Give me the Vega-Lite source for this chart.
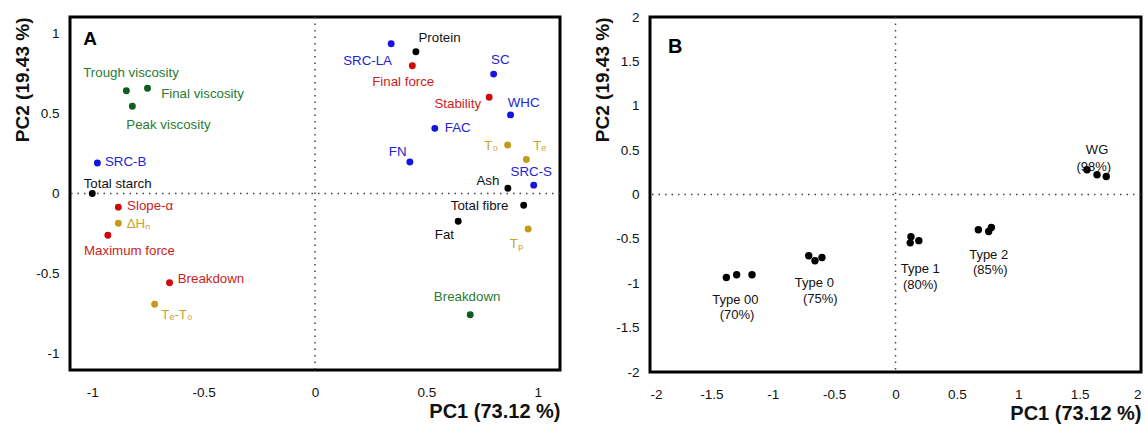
{
  "$schema": "https://vega.github.io/schema/vega-lite/v6.json",
  "background": "white",
  "padding": {"left": 12, "top": 8, "right": 5, "bottom": 5},
  "bounds": "flush",
  "spacing": 90,
  "config": {
    "font": "Liberation Sans",
    "view": {"stroke": "black", "strokeWidth": 3},
    "axis": {
      "grid": false, "ticks": false, "tickSize": 0, "domain": false,
      "labelFontSize": 13.5, "labelColor": "#111", "labelFont": "Liberation Sans",
      "titleFontWeight": "bold", "titleColor": "#111", "titleFont": "Liberation Sans"
    },
    "axisX": {"labelPadding": 15, "titlePadding": 3, "titleAnchor": "end", "titleFontSize": 20},
    "axisY": {"labelPadding": 11, "titlePadding": 3, "titleAnchor": "end", "titleFontSize": 19},
    "text": {"font": "Liberation Sans"}
  },
  "datasets": {
    "loadings": [
      {"label": "Trough viscosity", "g": "green", "x": -0.847, "y": 0.64, "lx": -0.826, "ly": 0.752},
      {"label": "Final viscosity", "g": "green", "x": -0.752, "y": 0.656, "lx": -0.505, "ly": 0.623},
      {"label": "Peak viscosity", "g": "green", "x": -0.82, "y": 0.544, "lx": -0.658, "ly": 0.429},
      {"label": "SRC-B", "g": "blue", "x": -0.977, "y": 0.19, "lx": -0.85, "ly": 0.198},
      {"label": "Total starch", "g": "black", "x": -1.0, "y": 0.0, "lx": -0.886, "ly": 0.058},
      {"label": "Slope-α", "g": "red", "x": -0.883, "y": -0.085, "lx": -0.74, "ly": -0.075},
      {"label": "ΔHₙ", "g": "gold", "x": -0.883, "y": -0.185, "lx": -0.793, "ly": -0.19},
      {"label": "Maximum force", "g": "red", "x": -0.93, "y": -0.26, "lx": -0.833, "ly": -0.36},
      {"label": "Breakdown", "g": "red", "x": -0.653, "y": -0.556, "lx": -0.467, "ly": -0.53},
      {"label": "Tₑ-T₀", "g": "gold", "x": -0.72, "y": -0.69, "lx": -0.62, "ly": -0.76},
      {"label": "Protein", "g": "black", "x": 0.453, "y": 0.883, "lx": 0.559, "ly": 0.967},
      {"label": "SRC-LA", "g": "blue", "x": 0.342, "y": 0.933, "lx": 0.236, "ly": 0.827},
      {"label": "Final force", "g": "red", "x": 0.437, "y": 0.796, "lx": 0.396, "ly": 0.696},
      {"label": "SC", "g": "blue", "x": 0.802, "y": 0.744, "lx": 0.832, "ly": 0.831},
      {"label": "Stability", "g": "red", "x": 0.782, "y": 0.6, "lx": 0.641, "ly": 0.556},
      {"label": "WHC", "g": "blue", "x": 0.878, "y": 0.49, "lx": 0.937, "ly": 0.565},
      {"label": "FAC", "g": "blue", "x": 0.538, "y": 0.406, "lx": 0.641, "ly": 0.406},
      {"label": "T₀", "g": "gold", "x": 0.865, "y": 0.302, "lx": 0.791, "ly": 0.296},
      {"label": "Tₑ", "g": "gold", "x": 0.949, "y": 0.212, "lx": 1.009, "ly": 0.296},
      {"label": "FN", "g": "blue", "x": 0.426, "y": 0.196, "lx": 0.371, "ly": 0.256},
      {"label": "SRC-S", "g": "blue", "x": 0.982, "y": 0.052, "lx": 0.971, "ly": 0.133},
      {"label": "Ash", "g": "black", "x": 0.866, "y": 0.033, "lx": 0.776, "ly": 0.081},
      {"label": "Total fibre", "g": "black", "x": 0.937, "y": -0.073, "lx": 0.739, "ly": -0.079},
      {"label": "Fat", "g": "black", "x": 0.643, "y": -0.173, "lx": 0.581, "ly": -0.256},
      {"label": "Tₚ", "g": "gold", "x": 0.957, "y": -0.221, "lx": 0.904, "ly": -0.315},
      {"label": "Breakdown", "g": "green", "x": 0.697, "y": -0.756, "lx": 0.683, "ly": -0.648}
    ],
    "scores": [
      {"sample": "Type 00", "x": -1.378, "y": -0.935},
      {"sample": "Type 00", "x": -1.294, "y": -0.905},
      {"sample": "Type 00", "x": -1.169, "y": -0.905},
      {"sample": "Type 0", "x": -0.707, "y": -0.69},
      {"sample": "Type 0", "x": -0.656, "y": -0.747},
      {"sample": "Type 0", "x": -0.599, "y": -0.71},
      {"sample": "Type 1", "x": 0.126, "y": -0.475},
      {"sample": "Type 1", "x": 0.12, "y": -0.545},
      {"sample": "Type 1", "x": 0.19, "y": -0.52},
      {"sample": "Type 2", "x": 0.675, "y": -0.398},
      {"sample": "Type 2", "x": 0.759, "y": -0.417},
      {"sample": "Type 2", "x": 0.781, "y": -0.372},
      {"sample": "WG", "x": 1.56, "y": 0.278},
      {"sample": "WG", "x": 1.642, "y": 0.222},
      {"sample": "WG", "x": 1.717, "y": 0.203}
    ],
    "scoreLabels": [
      {"text": "Type 00", "lx": -1.305, "ly": -1.187},
      {"text": "(70%)", "lx": -1.291, "ly": -1.363},
      {"text": "Type 0", "lx": -0.661, "ly": -1.0},
      {"text": "(75%)", "lx": -0.613, "ly": -1.18},
      {"text": "Type 1", "lx": 0.202, "ly": -0.84},
      {"text": "(80%)", "lx": 0.202, "ly": -1.025},
      {"text": "Type 2", "lx": 0.759, "ly": -0.68},
      {"text": "(85%)", "lx": 0.772, "ly": -0.853},
      {"text": "WG", "lx": 1.642, "ly": 0.496},
      {"text": "(98%)", "lx": 1.615, "ly": 0.315}
    ]
  },
  "hconcat": [
    {
      "width": 490,
      "height": 353,
      "layer": [
        {
          "data": {"values": [{"v": 0}]},
          "mark": {"type": "rule", "stroke": "#444", "strokeWidth": 1.5, "strokeDash": [1.5, 5]},
          "encoding": {"x": {"field": "v", "type": "quantitative", "scale": {"domain": [-1.1, 1.1], "nice": false}}}
        },
        {
          "data": {"values": [{"v": 0}]},
          "mark": {"type": "rule", "stroke": "#444", "strokeWidth": 1.5, "strokeDash": [1.5, 5]},
          "encoding": {"y": {"field": "v", "type": "quantitative", "scale": {"domain": [-1.1, 1.1], "nice": false}}}
        },
        {
          "data": {"name": "loadings"},
          "mark": {"type": "point", "filled": true, "size": 48, "opacity": 1},
          "encoding": {
            "x": {"field": "x", "type": "quantitative", "scale": {"domain": [-1.1, 1.1], "nice": false},
                  "axis": {"title": "PC1 (73.12 %)", "values": [-1, -0.5, 0, 0.5, 1], "labelExpr": "'' + datum.value"}},
            "y": {"field": "y", "type": "quantitative", "scale": {"domain": [-1.1, 1.1], "nice": false},
                  "axis": {"title": "PC2 (19.43 %)", "values": [-1, -0.5, 0, 0.5, 1], "labelExpr": "'' + datum.value"}},
            "color": {"field": "g", "type": "nominal", "legend": null,
                      "scale": {"domain": ["green", "blue", "red", "gold", "black"], "range": ["#0e5e1d", "#1414e0", "#d00a0a", "#c49a1a", "#000000"]}}
          }
        },
        {
          "data": {"name": "loadings"},
          "mark": {"type": "text", "fontSize": 13.3, "align": "center", "baseline": "middle"},
          "encoding": {
            "x": {"field": "lx", "type": "quantitative"},
            "y": {"field": "ly", "type": "quantitative"},
            "text": {"field": "label"},
            "color": {"field": "g", "type": "nominal", "legend": null,
                      "scale": {"domain": ["green", "blue", "red", "gold", "black"], "range": ["#2a7a33", "#2323d6", "#cc1c1c", "#c9a22a", "#111111"]}}
          }
        },
        {
          "data": {"values": [{"t": "A"}]},
          "mark": {"type": "text", "fontSize": 19, "fontWeight": "bold", "align": "left", "baseline": "alphabetic", "color": "#000"},
          "encoding": {"x": {"datum": -1.04}, "y": {"datum": 0.925}, "text": {"field": "t"}}
        }
      ],
      "resolve": {"scale": {"color": "independent"}}
    },
    {
      "width": 491,
      "height": 355,
      "layer": [
        {
          "data": {"values": [{"v": 0}]},
          "mark": {"type": "rule", "stroke": "#444", "strokeWidth": 1.5, "strokeDash": [1.5, 5]},
          "encoding": {"x": {"field": "v", "type": "quantitative", "scale": {"domain": [-2, 2], "nice": false}}}
        },
        {
          "data": {"values": [{"v": 0}]},
          "mark": {"type": "rule", "stroke": "#444", "strokeWidth": 1.5, "strokeDash": [1.5, 5]},
          "encoding": {"y": {"field": "v", "type": "quantitative", "scale": {"domain": [-2, 2], "nice": false}}}
        },
        {
          "data": {"name": "scores"},
          "mark": {"type": "point", "filled": true, "size": 55, "opacity": 1, "color": "#000"},
          "encoding": {
            "x": {"field": "x", "type": "quantitative", "scale": {"domain": [-2, 2], "nice": false},
                  "axis": {"title": "PC1 (73.12 %)", "values": [-2, -1.5, -1, -0.5, 0, 0.5, 1, 1.5, 2], "labelExpr": "'' + datum.value"}},
            "y": {"field": "y", "type": "quantitative", "scale": {"domain": [-2, 2], "nice": false},
                  "axis": {"title": "PC2 (19.43 %)", "values": [-2, -1.5, -1, -0.5, 0, 0.5, 1, 1.5, 2], "labelExpr": "'' + datum.value"}}
          }
        },
        {
          "data": {"name": "scoreLabels"},
          "mark": {"type": "text", "fontSize": 13, "align": "center", "baseline": "middle", "color": "#111"},
          "encoding": {
            "x": {"field": "lx", "type": "quantitative"},
            "y": {"field": "ly", "type": "quantitative"},
            "text": {"field": "text"}
          }
        },
        {
          "data": {"values": [{"t": "B"}]},
          "mark": {"type": "text", "fontSize": 20, "fontWeight": "bold", "align": "left", "baseline": "alphabetic", "color": "#000"},
          "encoding": {"x": {"datum": -1.853}, "y": {"datum": 1.589}, "text": {"field": "t"}}
        }
      ]
    }
  ]
}
